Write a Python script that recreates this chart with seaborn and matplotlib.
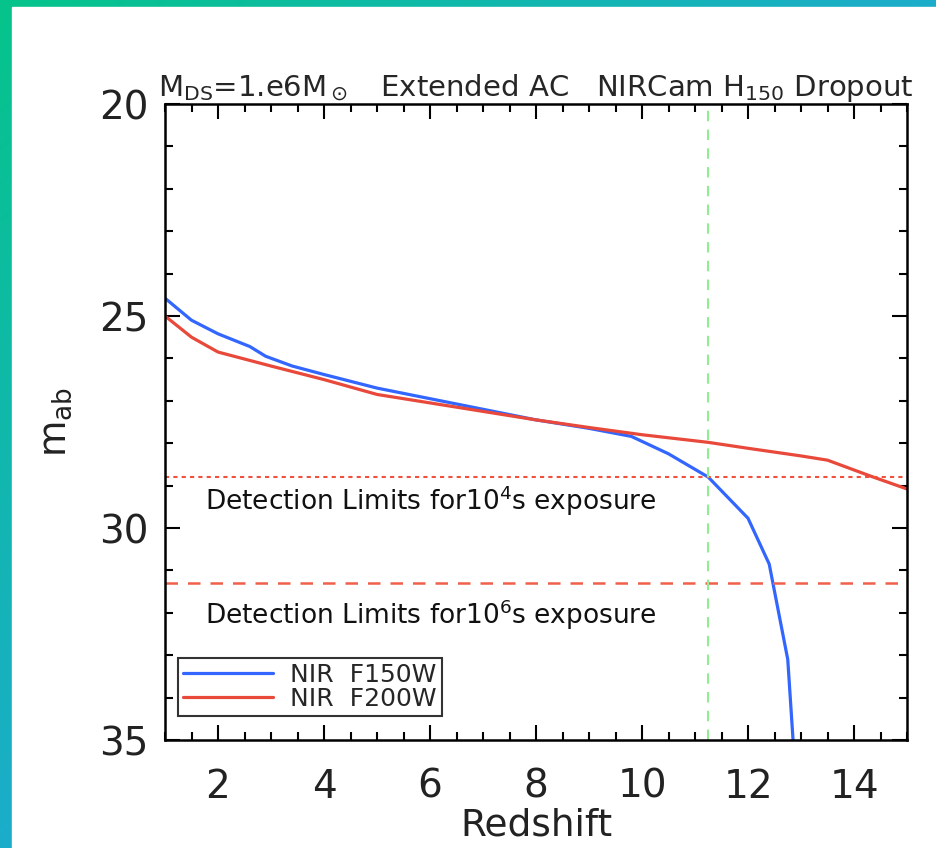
import numpy as np
import pandas as pd
import matplotlib
matplotlib.use("Agg")
import matplotlib.pyplot as plt
import seaborn as sns
from matplotlib.ticker import MultipleLocator

# Curve values
z_f150w = [1.0, 1.5, 2.0, 2.6, 2.9, 3.4, 4.0, 5.0, 6.0, 7.0, 8.0, 9.0, 9.8,
           10.5, 11.25, 12.0, 12.4, 12.75, 12.85]
m_f150w = [24.58, 25.1, 25.42, 25.72, 25.95, 26.18, 26.38, 26.7, 26.95, 27.2,
           27.45, 27.65, 27.84, 28.25, 28.8, 29.77, 30.85, 33.1, 35.0]

z_f200w = [1.0, 1.5, 2.0, 3.0, 4.0, 5.0, 6.0, 7.0, 8.0, 9.0, 10.0, 11.25,
           12.0, 13.0, 13.5, 14.3, 15.0]
m_f200w = [25.0, 25.5, 25.85, 26.18, 26.5, 26.85, 27.05, 27.25, 27.45, 27.63,
           27.8, 27.98, 28.12, 28.3, 28.4, 28.77, 29.08]

series_labels = ["NIR  F150W", "NIR  F200W"]
limit_1e4 = 28.8
limit_1e6 = 31.3
dropout_z = 11.25

df = pd.concat([
    pd.DataFrame({"Redshift": z_f150w, "mab": m_f150w, "band": series_labels[0]}),
    pd.DataFrame({"Redshift": z_f200w, "mab": m_f200w, "band": series_labels[1]}),
])

sns.set_style("ticks")
plt.rcParams["font.family"] = ["DejaVu Sans"]
plt.rcParams["mathtext.default"] = "regular"

fig = plt.figure(figsize=(9.36, 8.48), dpi=100)

# gradient frame behind the white panel
bg = fig.add_axes([0, 0, 1, 1], zorder=-10)
H, W = 848, 936
yy, xx = np.mgrid[0:H, 0:W]
t = np.clip(xx / W * 0.9 + yy / H * 0.9, 0, 1)[..., None]
c0 = np.array([5, 196, 138]) / 255
c1 = np.array([30, 170, 210]) / 255
bg.imshow(c0 * (1 - t) + c1 * t, aspect="auto", extent=[0, W, H, 0])
bg.add_patch(plt.Rectangle((12, 7), W, H, color="white"))
bg.set_xlim(0, W)
bg.set_ylim(H, 0)
bg.axis("off")

ax = fig.add_axes([165 / 936, 1 - 740 / 848, 742 / 936, 636 / 848])
ax.set_facecolor("white")

sns.lineplot(data=df, x="Redshift", y="mab", hue="band", sort=False,
             palette=["#3366ff", "#e8493a"], linewidth=2.3, ax=ax,
             estimator=None)

ax.axhline(limit_1e4, color="#f0503c", linestyle=(0, (2, 2)), linewidth=1.5)
ax.axhline(limit_1e6, color="#f0604a", linestyle=(0, (5, 4)), linewidth=1.8)
ax.axvline(dropout_z, color="#90ee90", linestyle=(0, (5, 4)), linewidth=1.5)

ax.text(1.75, 29.35, "Detection Limits for10$^4$s exposure", fontsize=19,
        va="center", color="#111111")
ax.text(1.75, 32.05, "Detection Limits for10$^6$s exposure", fontsize=19,
        va="center", color="#111111")

ax.set_xlim(1, 15)
ax.set_ylim(35, 20)
ax.xaxis.set_major_locator(MultipleLocator(2))
ax.xaxis.set_minor_locator(MultipleLocator(0.5))
ax.yaxis.set_major_locator(MultipleLocator(5))
ax.yaxis.set_minor_locator(MultipleLocator(1))
ax.tick_params(which="both", direction="in", top=True, right=True,
               width=1.5, color="black")
ax.tick_params(which="major", length=11, labelsize=28, labelcolor="#222222")
ax.tick_params(axis="x", which="major", pad=20)
ax.tick_params(axis="y", which="major", pad=12)
ax.tick_params(which="minor", length=6)
for s in ax.spines.values():
    s.set_visible(True)
    s.set_linewidth(1.8)
    s.set_color("black")

ax.set_xlabel("Redshift", fontsize=27, labelpad=1, color="#222222")
ax.set_ylabel(r"m$_{ab}$", fontsize=27, labelpad=18, color="#222222")
ax.set_title(r"M$_{DS}$=1.e6M$_\odot$   Extended AC   NIRCam H$_{150}$ Dropout",
             fontsize=21, pad=5)

leg = ax.legend(loc="upper left", bbox_to_anchor=(0.0175, 0.129),
                borderaxespad=0, fontsize=18, handlelength=3.6,
                handletextpad=0.7, labelspacing=0.0, fancybox=False,
                frameon=True, edgecolor="black", borderpad=0.2)
leg.get_frame().set_linewidth(1.5)
leg.set_title(None)

fig.savefig("out.png", dpi=100, facecolor="white")
